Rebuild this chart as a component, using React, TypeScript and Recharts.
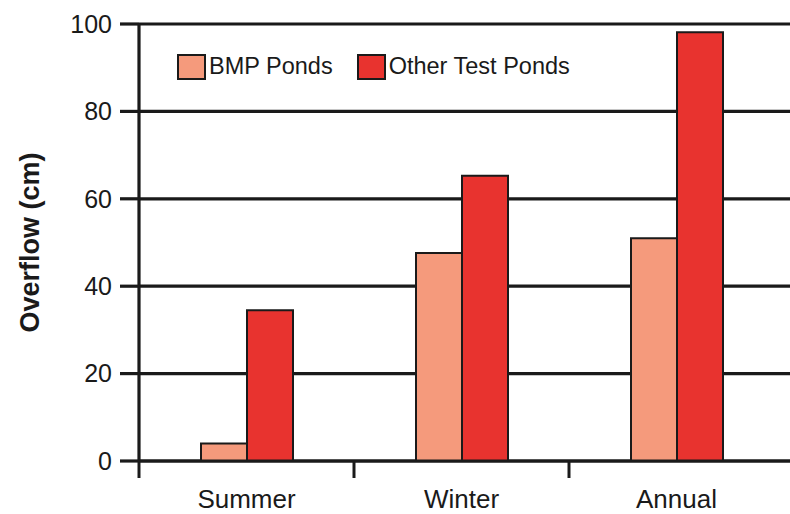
import React from 'react';
import { BarChart, Bar, XAxis, YAxis, CartesianGrid, Legend } from 'recharts';

const categories = ['Summer', 'Winter', 'Annual'];
const bmpPonds = [4, 47.6, 51];
const otherTestPonds = [34.5, 65.3, 98.1];
const yTicks = [0, 20, 40, 60, 80, 100];
const seriesNames = ['BMP Ponds', 'Other Test Ponds'];

const data = categories.map((c, i) => ({
  name: c,
  bmp: bmpPonds[i],
  other: otherTestPonds[i],
}));

const FONT = '"Liberation Sans", Arial, Helvetica, sans-serif';
const INK = '#1a1a1a';
const BMP_COLOR = '#F59A7C';
const OTHER_COLOR = '#E8332F';
const HALF_BAND = 107.5;

const CategoryTick = (props: any) => {
  const { x, y, payload } = props;
  return (
    <g>
      <line x1={x - HALF_BAND} x2={x - HALF_BAND} y1={y} y2={y + 17} stroke={INK} strokeWidth={3} />
      <text x={x} y={y + 47} textAnchor="middle" fontFamily={FONT} fontSize={26} fill={INK}>
        {payload.value}
      </text>
    </g>
  );
};

const YLabel = (props: any) => {
  const vb = props.viewBox || {};
  const cy = vb.y + vb.height / 2;
  const cx = 39;
  return (
    <text
      x={cx}
      y={cy}
      transform={`rotate(-90, ${cx}, ${cy})`}
      textAnchor="middle"
      fontFamily={FONT}
      fontWeight="bold"
      fontSize={27}
      fill={INK}
    >
      Overflow (cm)
    </text>
  );
};

const LegendContent = () => {
  const colors = [BMP_COLOR, OTHER_COLOR];
  return (
    <div style={{ display: 'flex', alignItems: 'center', fontFamily: FONT, fontSize: 23.5, color: INK, whiteSpace: 'nowrap' }}>
      {seriesNames.map((n, i) => (
        <div key={n} style={{ display: 'flex', alignItems: 'center', marginRight: 24 }}>
          <div
            style={{
              width: 25,
              height: 22,
              background: colors[i],
              border: `2px solid ${INK}`,
              marginRight: 3,
            }}
          />
          <span>{n}</span>
        </div>
      ))}
    </div>
  );
};

export default function App() {
  return (
    <div style={{ position: 'absolute', left: 0, top: 0, background: '#fff' }}>
      <BarChart
        width={790}
        height={514}
        data={data}
        margin={{ top: 24, right: 0, bottom: 0, left: 0 }}
        barGap={0}
      >
        <CartesianGrid horizontal vertical={false} stroke={INK} strokeWidth={3.2} strokeOpacity={1} />
        <XAxis
          dataKey="name"
          height={53}
          padding={{ left: 0, right: 6 }}
          tickLine={false}
          tickSize={0}
          tickMargin={0}
          axisLine={{ stroke: INK, strokeWidth: 3.2 }}
          tick={<CategoryTick />}
          interval={0}
        />
        <YAxis
          width={139}
          domain={[0, 100]}
          ticks={yTicks}
          interval={0}
          tickSize={19}
          tickMargin={8}
          tickLine={{ stroke: INK, strokeWidth: 3.2 }}
          axisLine={{ stroke: INK, strokeWidth: 3.2 }}
          tick={{ fontFamily: FONT, fontSize: 25, fill: INK }}
          label={<YLabel />}
        />
        <Legend
          layout="horizontal"
          verticalAlign="middle"
          align="center"
          content={<LegendContent />}
          wrapperStyle={{ top: 53, left: 177, width: 'auto' }}
        />
        <Bar
          dataKey="bmp"
          name={seriesNames[0]}
          fill={BMP_COLOR}
          stroke={INK}
          strokeWidth={2}
          barSize={46}
          isAnimationActive={false}
        />
        <Bar
          dataKey="other"
          name={seriesNames[1]}
          fill={OTHER_COLOR}
          stroke={INK}
          strokeWidth={2}
          barSize={46}
          isAnimationActive={false}
        />
      </BarChart>
    </div>
  );
}
